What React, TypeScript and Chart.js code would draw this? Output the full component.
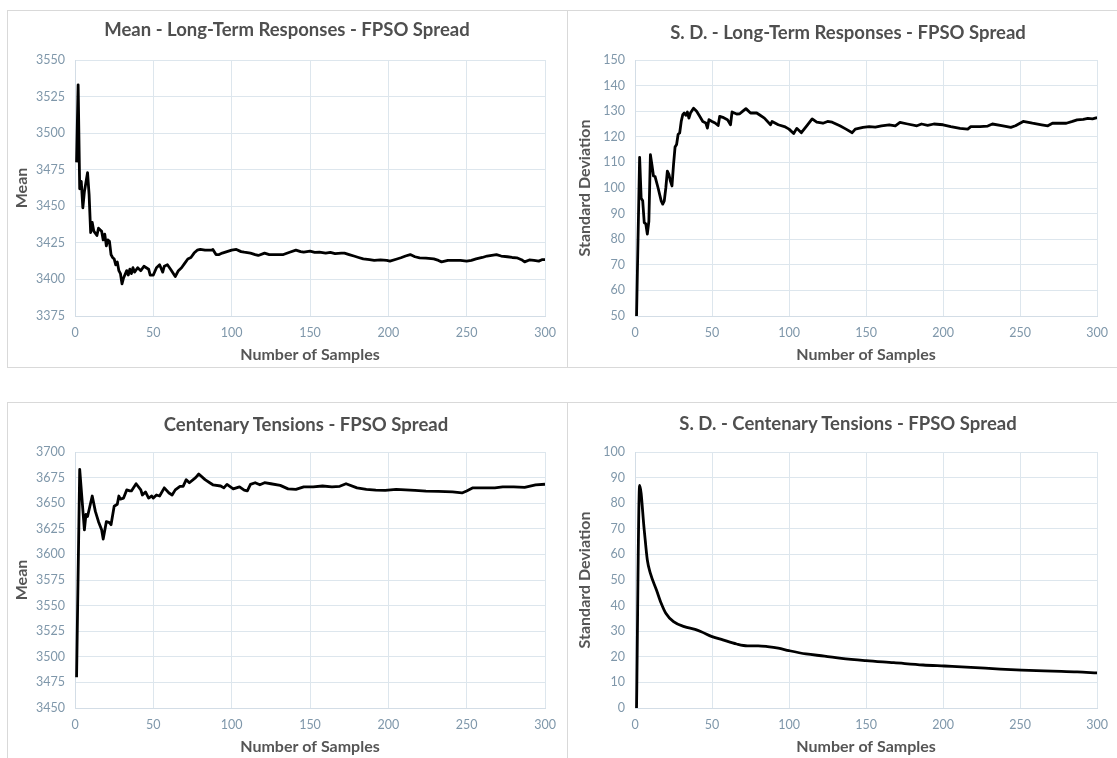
import React, { useEffect, useRef } from "react";
import { Chart, registerables } from "chart.js";

Chart.register(...registerables);

// ---------- data ----------
const xTickValues = [0, 50, 100, 150, 200, 250, 300];
const xAxisLabel = "Number of Samples";

const meanLongTermX = [1, 2, 3, 4, 5, 6, 8, 9, 10, 11, 12, 14, 15, 17, 18, 19, 20, 21, 22, 23, 24, 25, 26, 27, 28, 29, 30, 31, 33, 34, 35, 36, 37, 38, 40, 42, 44, 47, 48, 50, 52, 54, 56, 57, 59, 61, 64, 66, 68, 70, 72, 74, 76, 78, 80, 83, 87, 88, 90, 92, 94, 97, 100, 103, 106, 108, 112, 115, 117, 121, 124, 127, 130, 133, 137, 141, 144, 146, 150, 153, 156, 160, 163, 166, 170, 172, 175, 178, 181, 184, 188, 191, 195, 199, 201, 205, 208, 211, 214, 217, 220, 224, 229, 232, 234, 238, 242, 246, 250, 253, 256, 260, 263, 266, 269, 272, 276, 279, 282, 285, 287, 290, 293, 296, 298, 300];
const meanLongTermY = [3480, 3533, 3462, 3467, 3449, 3460, 3473, 3458, 3432, 3439, 3433, 3430, 3435, 3433, 3427, 3431, 3423, 3427, 3426, 3417, 3415, 3414, 3410, 3412, 3406, 3404, 3397, 3401, 3406, 3403, 3407, 3404, 3408, 3405, 3408, 3406, 3409, 3407, 3403, 3403, 3408, 3410, 3405, 3409, 3410, 3407, 3402, 3406, 3408, 3411, 3414, 3415, 3418, 3420, 3420.5, 3420, 3420, 3420.5, 3417, 3417, 3418, 3419, 3420, 3420.5, 3419, 3418.6, 3418, 3417, 3416.4, 3418, 3417, 3417, 3417, 3417, 3418.6, 3420, 3419, 3418.6, 3419.3, 3418.5, 3418.6, 3418, 3418.5, 3417.7, 3418, 3418, 3417, 3416, 3415, 3414, 3413.5, 3413, 3413.3, 3413, 3412.5, 3413.8, 3414.8, 3416, 3417, 3415.5, 3414.8, 3414.5, 3414, 3413, 3412, 3413, 3413, 3413, 3412.5, 3413, 3414, 3415, 3416, 3416.5, 3417, 3416, 3415.5, 3415, 3414.8, 3413.5, 3412, 3413.3, 3413, 3412.5, 3413.5, 3413.5];

const sdLongTermX = [1, 3, 4, 5, 6, 7, 8, 9, 10, 11, 12, 13, 15, 17, 18, 19, 20, 21, 22, 23, 24, 25, 26, 27, 28, 29, 30, 31, 32, 33, 34, 35, 36, 38, 40, 42, 44, 46, 47, 48, 50, 52, 54, 55, 57, 60, 62, 63, 66, 68, 70, 72, 75, 79, 81, 84, 88, 89, 93, 97, 100, 103, 105, 108, 112, 115, 118, 122, 125, 128, 133, 137, 141, 143, 148, 152, 156, 160, 165, 169, 172, 177, 183, 186, 190, 194, 200, 205, 211, 216, 218, 224, 229, 232, 238, 244, 247, 252, 258, 264, 268, 271, 276, 280, 284, 287, 291, 294, 297, 300];
const sdLongTermY = [50, 112, 96, 95, 86.5, 86, 82, 87, 113, 109, 104.7, 104.5, 100, 95, 93.7, 95, 100, 106.6, 105.3, 102.7, 100.8, 109, 116, 117, 121, 121.5, 126, 128.6, 129.3, 128.4, 129.7, 127.3, 129.3, 131.2, 130, 128, 126, 125.4, 123.4, 126.7, 126, 125.4, 124.4, 128, 127.6, 126.7, 124.7, 129.7, 128.9, 129, 130, 131, 129.3, 129.3, 128.5, 127.3, 124.7, 126, 124.7, 124, 123, 121.3, 123.3, 121.6, 124.7, 127, 125.7, 125.3, 126, 125.7, 124.3, 123, 121.6, 123, 123.7, 124, 123.8, 124.3, 124.7, 124.3, 125.6, 125, 124.3, 125, 124.5, 125, 124.7, 124, 123.3, 123, 124, 124, 124.2, 125, 124.4, 123.7, 124.3, 126, 125.3, 124.7, 124.3, 125.3, 125.3, 125.3, 126, 126.6, 126.8, 127.2, 127, 127.5];

const meanTensionX = [1, 3, 6, 7, 8, 11, 13, 15, 17, 18, 20, 22, 23, 25, 27, 28, 29, 31, 33, 35, 36, 39, 42, 43, 45, 47, 49, 50, 52, 54, 57, 60, 62, 64, 67, 69, 71, 73, 77, 79, 83, 86, 88, 93, 95, 97, 101, 105, 108, 110, 112, 115, 118, 121, 125, 131, 136, 141, 146, 152, 158, 164, 169, 173, 180, 186, 192, 198, 205, 211, 217, 224, 232, 241, 247, 250, 254, 262, 268, 273, 280, 287, 294, 300];
const meanTensionY = [3480, 3683, 3624, 3639, 3637, 3657, 3642, 3632, 3624, 3615, 3632, 3631, 3629, 3647, 3649, 3657, 3654, 3655, 3663, 3662, 3662, 3669, 3663, 3658, 3661, 3655, 3657, 3655, 3658, 3657, 3665, 3660, 3658, 3663, 3666.5, 3666.5, 3673, 3670, 3675, 3678.5, 3673, 3670, 3668, 3666.8, 3665, 3668.4, 3664, 3666, 3662.8, 3662, 3668.4, 3670, 3668, 3670, 3669, 3667.4, 3664, 3663.5, 3666, 3666, 3666.8, 3666, 3666.5, 3669, 3665, 3663.5, 3662.8, 3662.5, 3663.5, 3663, 3662.5, 3661.8, 3661.5, 3661, 3660, 3662, 3665, 3665, 3665, 3666, 3666, 3665.5, 3667.8, 3668.5];

const sdTensionX = [1, 3, 6, 8, 10, 14, 17, 20, 25, 32, 39, 43, 50, 57, 66, 73, 80, 86, 93, 100, 111, 123, 134, 150, 168, 187, 201, 218, 237, 251, 271, 287, 300];
const sdTensionY = [0, 87, 69.5, 57.8, 52.6, 46, 40.9, 37, 33.7, 31.8, 30.7, 29.8, 27.9, 26.6, 25, 24.3, 24.3, 24, 23.4, 22.4, 21.1, 20.3, 19.4, 18.5, 17.7, 16.8, 16.4, 15.9, 15.2, 14.8, 14.4, 14.1, 13.7];

// ---------- styling ----------
const FONT = "Lato, 'Open Sans', sans-serif";
const TITLE_COLOR = "#4f4f4f";
const AXIS_TITLE_COLOR = "#555555";
const TICK_COLOR = "#7f97aa";
const GRID_COLOR = "#dde6ed";
const AXIS_COLOR = "#d3dde6";
const PANEL_BORDER = "#d9d9d9";

type PanelSpec = {
  left: number;
  top: number;
  width: number;
  height: number;
  borders: { left?: boolean; top?: boolean; bottom?: boolean; right?: boolean };
  title: string;
  titleCx: number;
  titleCy: number;
  yTitle: string;
  yTitlePad: number;
  xTitlePad: number;
  plot: { l: number; t: number; r: number; b: number };
  xs: number[];
  ys: number[];
  yMin: number;
  yMax: number;
  yStep: number;
  smooth: boolean;
};

const panels: PanelSpec[] = [
  {
    left: 7, top: 10, width: 560, height: 358,
    borders: { left: true, top: true, bottom: true },
    title: "Mean - Long-Term Responses - FPSO Spread", titleCx: 287, titleCy: 29,
    yTitle: "Mean", yTitlePad: 5.4, xTitlePad: 3.4,
    plot: { l: 68, t: 50, r: 538, b: 306 },
    xs: meanLongTermX, ys: meanLongTermY, yMin: 3375, yMax: 3550, yStep: 25, smooth: false,
  },
  {
    left: 567, top: 10, width: 550, height: 358,
    borders: { left: true, top: true, bottom: true },
    title: "S. D. - Long-Term Responses - FPSO Spread", titleCx: 848, titleCy: 32,
    yTitle: "Standard Deviation", yTitlePad: 8.4, xTitlePad: 3.4,
    plot: { l: 68, t: 50, r: 538, b: 306 },
    xs: sdLongTermX, ys: sdLongTermY, yMin: 50, yMax: 150, yStep: 10, smooth: false,
  },
  {
    left: 7, top: 402, width: 560, height: 356,
    borders: { left: true, top: true },
    title: "Centenary Tensions - FPSO Spread", titleCx: 306, titleCy: 424,
    yTitle: "Mean", yTitlePad: 5.4, xTitlePad: 1.8,
    plot: { l: 68, t: 50, r: 538, b: 306 },
    xs: meanTensionX, ys: meanTensionY, yMin: 3450, yMax: 3700, yStep: 25, smooth: false,
  },
  {
    left: 567, top: 402, width: 550, height: 356,
    borders: { left: true, top: true },
    title: "S. D. - Centenary Tensions - FPSO Spread", titleCx: 848, titleCy: 423,
    yTitle: "Standard Deviation", yTitlePad: 8.4, xTitlePad: 1.8,
    plot: { l: 68, t: 50, r: 538, b: 306 },
    xs: sdTensionX, ys: sdTensionY, yMin: 0, yMax: 100, yStep: 10, smooth: true,
  },
];

function ChartPanel({ spec }: { spec: PanelSpec }) {
  const ref = useRef<HTMLCanvasElement | null>(null);

  useEffect(() => {
    const canvas = ref.current;
    if (!canvas) return;
    const { width: W, height: H, plot } = spec;
    const chart = new Chart(canvas, {
      type: "line",
      data: {
        datasets: [
          {
            data: spec.xs.map((x, i) => ({ x, y: spec.ys[i] })),
            borderColor: "#000000",
            borderWidth: 2.8,
            pointRadius: 0,
            fill: false,
            tension: spec.smooth ? 0.4 : 0,
            cubicInterpolationMode: spec.smooth ? "monotone" : "default",
            borderJoinStyle: "round",
          },
        ],
      },
      options: {
        responsive: false,
        maintainAspectRatio: false,
        animation: false,
        layout: { padding: { left: 0, top: plot.t, right: W - plot.r, bottom: 0 } },
        plugins: {
          legend: { display: false },
          tooltip: { enabled: false },
          title: { display: false },
        },
        scales: {
          x: {
            type: "linear",
            min: xTickValues[0],
            max: xTickValues[xTickValues.length - 1],
            afterFit: (s: any) => {
              s.height = H - plot.b;
            },
            afterBuildTicks: (s: any) => {
              s.ticks = xTickValues.map((v) => ({ value: v }));
            },
            ticks: {
              padding: 9,
              color: TICK_COLOR,
              font: { family: FONT, size: 12.5 },
              maxRotation: 0,
              callback: (v: any) => String(v),
            },
            grid: { color: GRID_COLOR, drawTicks: false },
            border: { color: AXIS_COLOR },
            title: {
              display: true,
              text: xAxisLabel,
              color: AXIS_TITLE_COLOR,
              font: { family: FONT, size: 16, weight: "bold" },
              padding: { top: 0, bottom: spec.xTitlePad },
            },
          },
          y: {
            type: "linear",
            min: spec.yMin,
            max: spec.yMax,
            afterFit: (s: any) => {
              s.width = plot.l;
            },
            ticks: {
              stepSize: spec.yStep,
              padding: 10,
              color: TICK_COLOR,
              font: { family: FONT, size: 12.5 },
              callback: (v: any) => String(v),
            },
            grid: { color: GRID_COLOR, drawTicks: false },
            border: { color: AXIS_COLOR },
            title: {
              display: true,
              text: spec.yTitle,
              color: AXIS_TITLE_COLOR,
              font: { family: FONT, size: 16, weight: "bold" },
              padding: { top: spec.yTitlePad, bottom: 0 },
            },
          },
        },
      },
    } as any);
    return () => chart.destroy();
  }, [spec]);

  const b = spec.borders;
  const line = `1px solid ${PANEL_BORDER}`;
  return (
    <>
      <div
        style={{
          position: "absolute",
          left: spec.left,
          top: spec.top,
          width: spec.width,
          height: spec.height,
          boxSizing: "border-box",
          borderLeft: b.left ? line : "none",
          borderTop: b.top ? line : "none",
          borderBottom: b.bottom ? line : "none",
          borderRight: b.right ? line : "none",
        }}
      />
      <canvas
        ref={ref}
        width={spec.width}
        height={spec.height}
        style={{
          position: "absolute",
          left: spec.left,
          top: spec.top,
          width: spec.width,
          height: spec.height,
        }}
      />
      <div
        style={{
          position: "absolute",
          left: spec.titleCx,
          top: spec.titleCy,
          transform: "translate(-50%, -50%)",
          whiteSpace: "nowrap",
          fontFamily: FONT,
          fontWeight: 700,
          fontSize: 18.5,
          lineHeight: 1.2,
          color: TITLE_COLOR,
        }}
      >
        {spec.title}
      </div>
    </>
  );
}

export default function App() {
  return (
    <div
      style={{
        position: "absolute",
        left: 0,
        top: 0,
        width: 1117,
        height: 758,
        overflow: "hidden",
        background: "#ffffff",
      }}
    >
      {panels.map((p, i) => (
        <ChartPanel key={i} spec={p} />
      ))}
    </div>
  );
}
